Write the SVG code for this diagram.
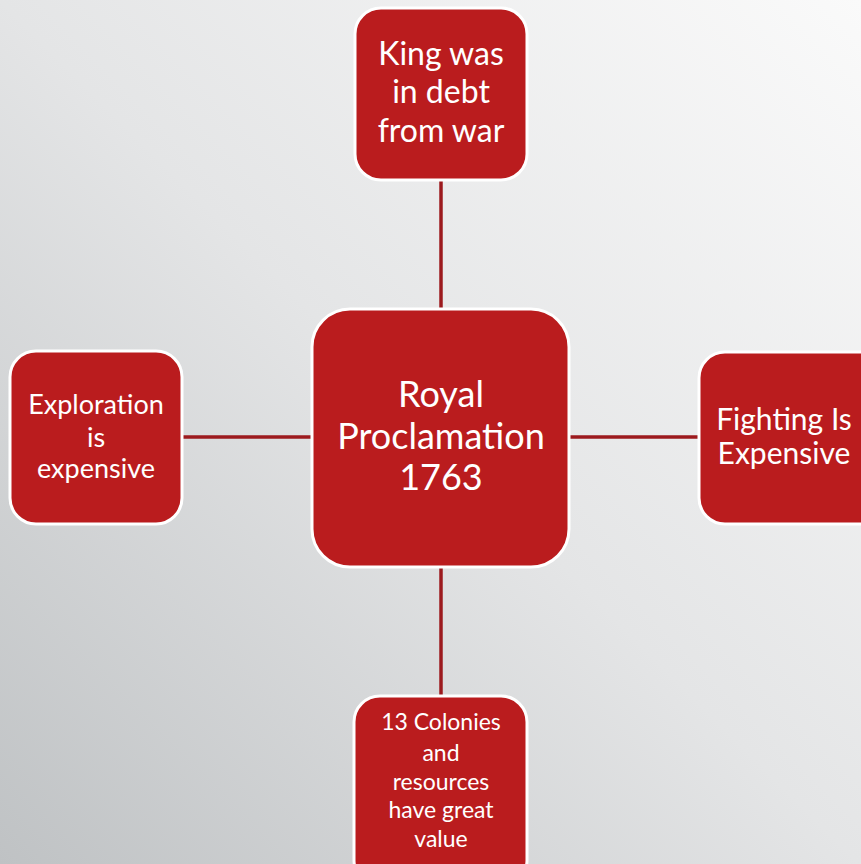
<svg xmlns="http://www.w3.org/2000/svg" width="861" height="864" viewBox="0 0 861 864">
<defs>
<linearGradient id="bg" x1="1" y1="0" x2="0" y2="1">
<stop offset="0" stop-color="#FAFAFA"/>
<stop offset="0.5" stop-color="#E4E5E6"/>
<stop offset="1" stop-color="#BFC2C4"/>
</linearGradient>
<style>
.node{fill:#BA1C1E;stroke:#FFFFFF;stroke-width:3}
.lbl{fill:#FFFFFF;font-family:Lato,"Open Sans","Liberation Sans",sans-serif;text-anchor:middle}
.conn{stroke:#9C1A1E;stroke-width:3.5;fill:none}
</style>
</defs>
<rect width="861" height="864" fill="url(#bg)"/>
<g id="connectors">
<line class="conn" x1="441" y1="180" x2="441" y2="309"/>
<line class="conn" x1="441" y1="567" x2="441" y2="696"/>
<line class="conn" x1="182" y1="437" x2="313" y2="437"/>
<line class="conn" x1="569" y1="437" x2="699" y2="437"/>
</g>
<g id="center">
<rect class="node" x="312" y="309" width="257" height="258" rx="38"/>
<text class="lbl" font-size="36"><tspan x="441" y="407">Royal</tspan><tspan x="441" y="449">Proclamation</tspan><tspan x="441" y="490">1763</tspan></text>
</g>
<g id="top">
<rect class="node" x="355" y="8" width="172" height="172" rx="26"/>
<text class="lbl" font-size="32"><tspan x="441" y="65">King was</tspan><tspan x="441" y="103">in debt</tspan><tspan x="441" y="142">from war</tspan></text>
</g>
<g id="left">
<rect class="node" x="10" y="351" width="172" height="173" rx="26"/>
<text class="lbl" font-size="27"><tspan x="96" y="414">Exploration</tspan><tspan x="96" y="447">is</tspan><tspan x="96" y="478">expensive</tspan></text>
</g>
<g id="right">
<rect class="node" x="699" y="352" width="190" height="172" rx="26"/>
<text class="lbl" font-size="30"><tspan x="784" y="430">Fighting Is</tspan><tspan x="784" y="464">Expensive</tspan></text>
</g>
<g id="bottom">
<rect class="node" x="354" y="696" width="173" height="190" rx="26"/>
<text class="lbl" font-size="23"><tspan x="441" y="730">13 Colonies</tspan><tspan x="441" y="761">and</tspan><tspan x="441" y="790">resources</tspan><tspan x="441" y="818">have great</tspan><tspan x="441" y="847">value</tspan></text>
</g>
</svg>
